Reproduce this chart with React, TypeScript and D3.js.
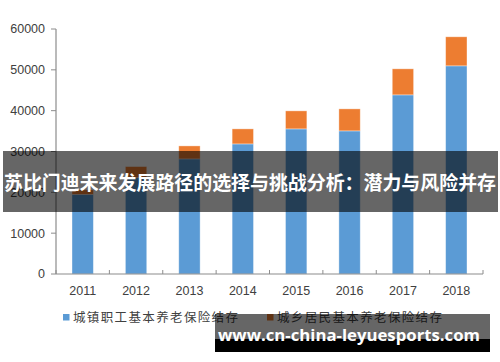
import React from 'react';
import * as d3 from 'd3';

// values
const years = ['2011', '2012', '2013', '2014', '2015', '2016', '2017', '2018'];
const urbanWorkers = [19500, 23600, 28190, 31860, 35540, 35050, 43870, 50980];
const ruralResidents = [1100, 2700, 3180, 3680, 4410, 5390, 6375, 7110];
const yTicks = [0, 10000, 20000, 30000, 40000, 50000, 60000];
const seriesNames = ['城镇职工基本养老保险结存', '城乡居民基本养老保险结存'];
const seriesColors = ['#5B9BD5', '#ED7D31'];

const title = '苏比门迪未来发展路径的选择与挑战分析：潜力与风险并存';
const watermark = 'www.cn-china-leyuesports.com';

const W = 500;
const H = 362;

const App = () => {
  const rows = years.map((y, i) => ({ year: y, a: urbanWorkers[i], b: ruralResidents[i] }));
  const stacked = d3.stack<any>().keys(['a', 'b'])(rows);

  const slot = d3.scaleBand().domain(years).range([56, 483]).padding(0);
  const x = d3.scaleBand().domain(years).range([56, 483]).paddingInner(0.6).paddingOuter(0.3);
  const y = d3.scaleLinear().domain([0, 60000]).range([274, 29]);

  const axisColor = '#8c8c8c';
  const textColor = '#404040';
  const numFont = '"Liberation Sans", Arial, sans-serif';
  const cjkFont = '"Noto Sans CJK SC", sans-serif';

  const tickXs = years.map(d => slot(d) as number).concat([483]);

  return (
    <div style={{ position: 'fixed', left: 0, top: 0 }}>
      <svg width={W} height={H} style={{ display: 'block', background: '#fff' }}>
        {/* bars */}
        {stacked.map((s, si) => (
          <g key={si} fill={seriesColors[si]}>
            {s.map((d, i) => (
              <rect
                key={i}
                x={x(years[i])}
                width={x.bandwidth()}
                y={y(d[1])}
                height={y(d[0]) - y(d[1])}
                stroke="rgba(255,255,255,0.45)"
                strokeWidth={0.8}
              />
            ))}
          </g>
        ))}

        {/* y axis */}
        <line x1={56} x2={56} y1={y(60000)} y2={y(0)} stroke={axisColor} strokeWidth={1.2} />
        {yTicks.map(t => (
          <g key={t}>
            <line x1={51} x2={56} y1={y(t)} y2={y(t)} stroke={axisColor} strokeWidth={1} />
            <text x={45} y={y(t)} dy="0.35em" textAnchor="end" fontSize={12.5} fontFamily={numFont} fill={textColor}>
              {t}
            </text>
          </g>
        ))}

        {/* x axis */}
        <line x1={56} x2={483} y1={y(0)} y2={y(0)} stroke={axisColor} strokeWidth={1.2} />
        {tickXs.map((tx, i) => (
          <line key={i} x1={tx} x2={tx} y1={y(0)} y2={y(0) - 4} stroke={axisColor} strokeWidth={1} />
        ))}
        {years.map(yr => (
          <text
            key={yr}
            x={(x(yr) as number) + x.bandwidth() / 2}
            y={295}
            textAnchor="middle"
            fontSize={12.5}
            fontFamily={numFont}
            fill={textColor}
          >
            {yr}
          </text>
        ))}

        {/* legend */}
        {seriesNames.map((name, i) => {
          const lx = i === 0 ? 63 : 267;
          return (
            <g key={name}>
              <rect x={lx} y={314} width={6.5} height={6.5} fill={seriesColors[i]} />
              <text
                x={lx + 10}
                y={317}
                dy="0.38em"
                fontSize={12.5}
                fontFamily={cjkFont}
                fill={textColor}
                textLength={165}
                lengthAdjust="spacing"
              >
                {name}
              </text>
            </g>
          );
        })}

        {/* title banner overlay */}
        <rect x={3} y={151} width={495} height={61} fill="rgba(0,0,0,0.6)" />
        <text
          x={4}
          y={183}
          dy="0.36em"
          fontSize={19.5}
          fontWeight="bold"
          fontFamily={cjkFont}
          fill="#fff"
          textLength={492}
          lengthAdjust="spacingAndGlyphs"
        >
          {title}
        </text>

        {/* watermark */}
        <rect x={215} y={314} width={275} height={25} fill="rgba(0,0,0,0.6)" />
        <rect x={215} y={339} width={275} height={13} fill="#000" />
        <text
          x={218}
          y={341}
          fontSize={16}
          fontWeight="bold"
          fontFamily='"Open Sans", "Noto Sans", sans-serif'
          fill="#fff"
          textLength={262}
          lengthAdjust="spacingAndGlyphs"
        >
          {watermark}
        </text>
      </svg>
    </div>
  );
};

export default App;
